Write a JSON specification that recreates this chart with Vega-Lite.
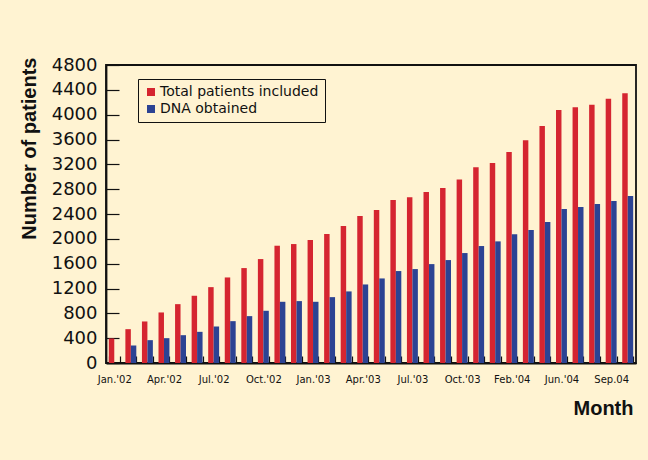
{
  "$schema": "https://vega.github.io/schema/vega-lite/v6.json",
  "width": 530,
  "height": 298,
  "autosize": {"type": "none"},
  "padding": {"left": 106, "top": 65, "right": 12, "bottom": 97},
  "background": "#fff3d2",
  "config": {
    "view": {"stroke": "#111111", "strokeWidth": 1.8},
    "font": "Liberation Sans"
  },
  "data": {
    "values": [
      {"month": "Jan.'02", "series": "Total patients included", "patients": 395},
      {"month": "Jan.'02", "series": "DNA obtained", "patients": 0},
      {"month": "Feb.'02", "series": "Total patients included", "patients": 545},
      {"month": "Feb.'02", "series": "DNA obtained", "patients": 282},
      {"month": "Mar.'02", "series": "Total patients included", "patients": 669},
      {"month": "Mar.'02", "series": "DNA obtained", "patients": 368},
      {"month": "Apr.'02", "series": "Total patients included", "patients": 814},
      {"month": "Apr.'02", "series": "DNA obtained", "patients": 400},
      {"month": "May'02", "series": "Total patients included", "patients": 948},
      {"month": "May'02", "series": "DNA obtained", "patients": 448},
      {"month": "Jun.'02", "series": "Total patients included", "patients": 1083},
      {"month": "Jun.'02", "series": "DNA obtained", "patients": 502},
      {"month": "Jul.'02", "series": "Total patients included", "patients": 1222},
      {"month": "Jul.'02", "series": "DNA obtained", "patients": 588},
      {"month": "Aug.'02", "series": "Total patients included", "patients": 1378},
      {"month": "Aug.'02", "series": "DNA obtained", "patients": 674},
      {"month": "Sep.'02", "series": "Total patients included", "patients": 1529},
      {"month": "Sep.'02", "series": "DNA obtained", "patients": 755},
      {"month": "Oct.'02", "series": "Total patients included", "patients": 1674},
      {"month": "Oct.'02", "series": "DNA obtained", "patients": 841},
      {"month": "Nov.'02", "series": "Total patients included", "patients": 1889},
      {"month": "Nov.'02", "series": "DNA obtained", "patients": 986},
      {"month": "Dec.'02", "series": "Total patients included", "patients": 1916},
      {"month": "Dec.'02", "series": "DNA obtained", "patients": 997},
      {"month": "Jan.'03", "series": "Total patients included", "patients": 1981},
      {"month": "Jan.'03", "series": "DNA obtained", "patients": 986},
      {"month": "Feb.'03", "series": "Total patients included", "patients": 2077},
      {"month": "Feb.'03", "series": "DNA obtained", "patients": 1061},
      {"month": "Mar.'03", "series": "Total patients included", "patients": 2206},
      {"month": "Mar.'03", "series": "DNA obtained", "patients": 1153},
      {"month": "Apr.'03", "series": "Total patients included", "patients": 2368},
      {"month": "Apr.'03", "series": "DNA obtained", "patients": 1265},
      {"month": "May'03", "series": "Total patients included", "patients": 2464},
      {"month": "May'03", "series": "DNA obtained", "patients": 1362},
      {"month": "Jun.'03", "series": "Total patients included", "patients": 2626},
      {"month": "Jun.'03", "series": "DNA obtained", "patients": 1481},
      {"month": "Jul.'03", "series": "Total patients included", "patients": 2669},
      {"month": "Jul.'03", "series": "DNA obtained", "patients": 1513},
      {"month": "Aug.'03", "series": "Total patients included", "patients": 2755},
      {"month": "Aug.'03", "series": "DNA obtained", "patients": 1593},
      {"month": "Sep.'03", "series": "Total patients included", "patients": 2819},
      {"month": "Sep.'03", "series": "DNA obtained", "patients": 1658},
      {"month": "Oct.'03", "series": "Total patients included", "patients": 2954},
      {"month": "Oct.'03", "series": "DNA obtained", "patients": 1771},
      {"month": "Nov.'03", "series": "Total patients included", "patients": 3153},
      {"month": "Nov.'03", "series": "DNA obtained", "patients": 1884},
      {"month": "Dec.'03", "series": "Total patients included", "patients": 3222},
      {"month": "Dec.'03", "series": "DNA obtained", "patients": 1959},
      {"month": "Feb.'04", "series": "Total patients included", "patients": 3400},
      {"month": "Feb.'04", "series": "DNA obtained", "patients": 2072},
      {"month": "Mar.'04", "series": "Total patients included", "patients": 3588},
      {"month": "Mar.'04", "series": "DNA obtained", "patients": 2142},
      {"month": "Apr.'04", "series": "Total patients included", "patients": 3819},
      {"month": "Apr.'04", "series": "DNA obtained", "patients": 2271},
      {"month": "Jun.'04", "series": "Total patients included", "patients": 4077},
      {"month": "Jun.'04", "series": "DNA obtained", "patients": 2480},
      {"month": "Jul.'04", "series": "Total patients included", "patients": 4120},
      {"month": "Jul.'04", "series": "DNA obtained", "patients": 2513},
      {"month": "Aug.'04", "series": "Total patients included", "patients": 4158},
      {"month": "Aug.'04", "series": "DNA obtained", "patients": 2561},
      {"month": "Sep.04", "series": "Total patients included", "patients": 4255},
      {"month": "Sep.04", "series": "DNA obtained", "patients": 2610},
      {"month": "Oct.'04", "series": "Total patients included", "patients": 4346},
      {"month": "Oct.'04", "series": "DNA obtained", "patients": 2690}
    ]
  },
  "mark": {"type": "bar"},
  "encoding": {
    "x": {
      "field": "month",
      "type": "nominal",
      "sort": null,
      "scale": {"paddingInner": 0.34, "paddingOuter": 0.17},
      "axis": {
        "title": "Month",
        "titleFont": "Liberation Sans",
        "titleFontSize": 20,
        "titleFontWeight": "bold",
        "titleColor": "#111111",
        "titleAnchor": "end",
        "titleAlign": "right",
        "titleBaseline": "alphabetic",
        "titleX": 527,
        "titleY": 51,
        "labelAngle": 0,
        "labelFont": "DejaVu Sans",
        "labelFontSize": 10,
        "labelColor": "#111111",
        "labelPadding": 18,
        "labelOverlap": false,
        "labelExpr": "indexof([\"Jan.'02\",\"Apr.'02\",\"Jul.'02\",\"Oct.'02\",\"Jan.'03\",\"Apr.'03\",\"Jul.'03\",\"Oct.'03\",\"Feb.'04\",\"Jun.'04\",\"Sep.04\"], datum.label) >= 0 ? datum.label : ''",
        "tickBand": "extent",
        "tickSize": -7,
        "tickColor": "#111111",
        "tickWidth": 1.2,
        "domainColor": "#111111",
        "domainWidth": 1.8
      }
    },
    "xOffset": {"field": "series", "sort": ["Total patients included", "DNA obtained"]},
    "y": {
      "field": "patients",
      "type": "quantitative",
      "scale": {"domain": [0, 4800], "nice": false},
      "axis": {
        "title": "Number of patients",
        "values": [0, 400, 800, 1200, 1600, 2000, 2400, 2800, 3200, 3600, 4000, 4400, 4800],
        "format": "d",
        "grid": false,
        "titleFont": "Liberation Sans",
        "titleFontSize": 20,
        "titleFontWeight": "bold",
        "titleColor": "#111111",
        "titleAnchor": "end",
        "titleBaseline": "alphabetic",
        "titleX": -71,
        "titleY": -8,
        "labelFont": "DejaVu Sans",
        "labelFontSize": 18,
        "labelColor": "#111111",
        "labelPadding": 22,
        "tickSize": -13,
        "tickColor": "#111111",
        "tickWidth": 1.2,
        "domainColor": "#111111",
        "domainWidth": 1.8
      }
    },
    "color": {
      "field": "series",
      "type": "nominal",
      "sort": ["Total patients included", "DNA obtained"],
      "scale": {"domain": ["Total patients included", "DNA obtained"], "range": ["#d52530", "#2c4393"]},
      "legend": {
        "title": null,
        "orient": "none",
        "legendX": 32,
        "legendY": 14,
        "symbolType": "square",
        "symbolSize": 64,
        "symbolStrokeWidth": 0,
        "labelFont": "DejaVu Sans",
        "labelFontSize": 14,
        "labelColor": "#111111",
        "labelOffset": 2,
        "strokeColor": "#111111",
        "padding": 6,
        "rowPadding": 3
      }
    }
  }
}
